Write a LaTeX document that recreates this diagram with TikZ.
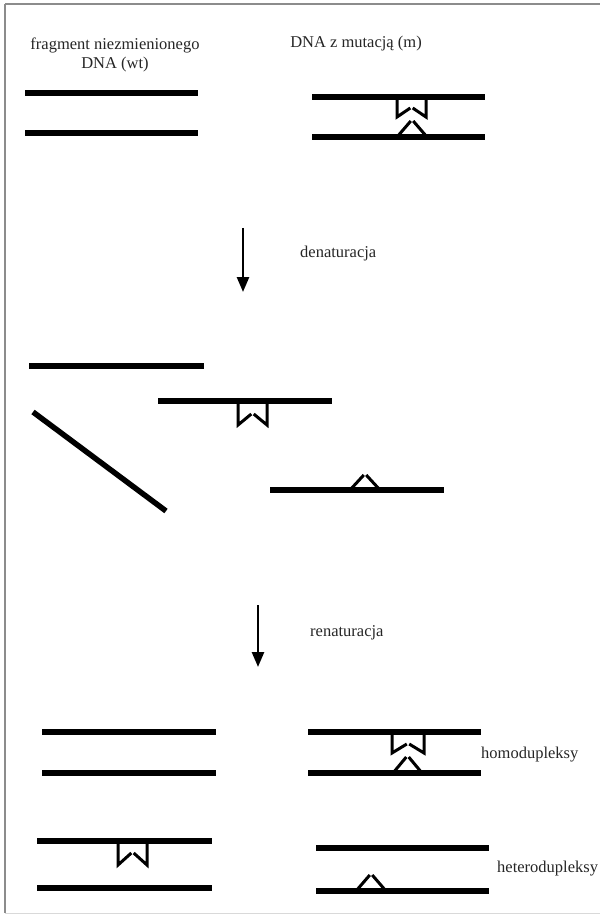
\documentclass[tikz,border=0pt]{standalone}
\usepackage{fontspec}
\setmainfont{Liberation Serif}
\usetikzlibrary{arrows.meta}
\tikzset{
  strand/.style={line width=5.5pt, line cap=butt},
  loopline/.style={line width=3pt, line join=miter},
  lbl/.style={font=\fontsize{16.5}{19}\selectfont, text=black!85, inner sep=0pt},
  steparrow/.style={line width=2.6pt, -{Triangle[length=15pt,width=12pt]}},
  frameline/.style={line width=2.2pt, draw=black!45}
}
% notch hanging below a strand: left x, right x, strand y, bottom y, peak y
\newcommand{\mynotch}[5]{%
  \draw[loopline] (#1,#3) -- (#1,#4) -- ({(#1+#2)/2-1.2},#5);
  \draw[loopline] ({(#1+#2)/2+1.2},#5) -- (#2,#4) -- (#2,#3);
}
% bump above a strand: left x, right x, strand y, peak y
\newcommand{\mybump}[4]{%
  \draw[loopline] (#1,#3) -- ({(#1+#2)/2-1.2},#4);
  \draw[loopline] ({(#1+#2)/2+1.2},#4) -- (#2,#3);
}
\begin{document}
\begin{tikzpicture}[x=1pt,y=-1pt]
\useasboundingbox (0,0) rectangle (600,917);
\fill[white] (0,0) rectangle (600,917);
% frame
\draw[frameline] (5,4) -- (600,4);
\draw[frameline] (5,4) -- (5,913);
\draw[line width=1pt, draw=black!15] (5,913) -- (600,913);

% titles
\node[lbl, align=center] (t1) at (115,55) {fragment niezmienionego\\DNA (wt)};
\node[lbl] (t2) at (356,44) {DNA z mutacją (m)};

% top-left wt duplex
\draw[strand] (25,93) -- (198,93);
\draw[strand] (25,133) -- (198,133);

% top-right mutant duplex
\draw[strand] (312,97) -- (485,97);
\draw[strand] (312,137) -- (485,137);
\mynotch{397}{426}{97}{117}{108}
\mybump{397}{427}{137}{121}

% denaturation arrow
\coordinate (a1s) at (243,228);
\coordinate (a1e) at (243,292);
\draw[steparrow] (a1s) -- (a1e);
\node[lbl, anchor=west] (den) at (300,254) {denaturacja};

% single strands
\draw[strand] (29,366) -- (204,366);
\draw[strand] (33,412) -- (166,511);
\draw[strand] (158,401) -- (332,401);
\mynotch{238}{267}{401}{425}{414}
\draw[strand] (270,490) -- (444,490);
\mybump{350}{380}{490}{475}

% renaturation arrow
\coordinate (a2s) at (258,605);
\coordinate (a2e) at (258,667);
\draw[steparrow] (a2s) -- (a2e);
\node[lbl, anchor=west] (ren) at (310,633) {renaturacja};

% homoduplexes
\draw[strand] (42,732) -- (216,732);
\draw[strand] (42,773) -- (216,773);
\draw[strand] (308,732) -- (481,732);
\draw[strand] (308,773) -- (481,773);
\mynotch{392}{424}{732}{753}{744}
\mybump{393}{422}{773}{757}
\node[lbl, anchor=west] (homo) at (481,755) {homodupleksy};

% heteroduplexes
\draw[strand] (37,841) -- (212,841);
\mynotch{118}{147}{841}{865}{853}
\draw[strand] (37,888) -- (212,888);
\draw[strand] (316,848) -- (489,848);
\draw[strand] (316,891) -- (489,891);
\mybump{356}{386}{891}{875}
\node[lbl, anchor=west] (hetero) at (497,869) {heterodupleksy};
\end{tikzpicture}
\end{document}
